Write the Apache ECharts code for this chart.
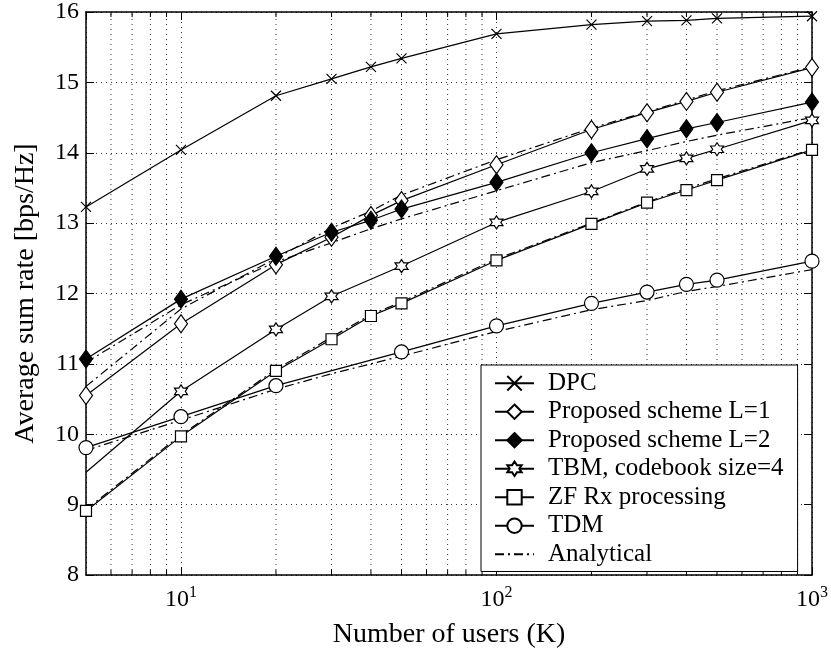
<!DOCTYPE html>
<html>
<head>
<meta charset="utf-8">
<script src="https://cdn.jsdelivr.net/npm/echarts@6/dist/echarts.min.js"></script>
<style>
  html, body { margin: 0; padding: 0; background: #fff; }
  #chart { width: 831px; height: 654px; }
</style>
</head>
<body>
<div id="chart"></div>
<script>
// number of users
const users = [5, 10, 20, 30, 40, 50, 100, 200, 300, 400, 500, 1000];
const usersTbm = [5, 10, 20, 30, 50, 100, 200, 300, 400, 500, 1000];
const usersTdm = [5, 10, 20, 50, 100, 200, 300, 400, 500, 1000];

// simulated sum rates
const dpc = [13.23, 14.04, 14.81, 15.05, 15.22, 15.34, 15.69, 15.82, 15.87, 15.88, 15.91, 15.94];
const propL1 = [10.55, 11.57, 12.41, 12.80, 13.11, 13.32, 13.83, 14.33, 14.57, 14.73, 14.86, 15.21];
const propL2 = [11.07, 11.92, 12.53, 12.87, 13.04, 13.20, 13.58, 14.00, 14.20, 14.34, 14.43, 14.72];
const tbm = [9.46, 10.61, 11.49, 11.96, 12.39, 13.01, 13.45, 13.77, 13.92, 14.05, 14.46];
const zf = [8.91, 9.97, 10.90, 11.35, 11.68, 11.86, 12.47, 12.99, 13.29, 13.47, 13.61, 14.04];
const tdm = [9.81, 10.25, 10.69, 11.17, 11.54, 11.86, 12.02, 12.13, 12.19, 12.46];

// analytical curves
const anaL1 = [10.68, 11.78, 12.50, 12.93, 13.17, 13.40, 13.90, 14.35, 14.58, 14.75, 14.88, 15.22];
const anaL2 = [11.02, 11.84, 12.45, 12.72, 12.92, 13.06, 13.46, 13.86, 14.03, 14.16, 14.25, 14.50];
const anaZf = [8.93, 9.99, 10.92, 11.38, 11.70, 11.88, 12.49, 13.00, 13.30, 13.49, 13.63, 14.05];
const anaTdm = [9.77, 10.20, 10.64, 10.86, 11.00, 11.11, 11.46, 11.77, 11.90, 12.03, 12.10, 12.34];

// minor log ticks on the x axis
const minorTicks = [6, 7, 8, 9, 20, 30, 40, 50, 60, 70, 80, 90, 200, 300, 400, 500, 600, 700, 800, 900];
const legendNames = ['DPC', 'Proposed scheme L=1', 'Proposed scheme L=2', 'TBM, codebook size=4',
  'ZF Rx processing', 'TDM', 'Analytical'];

const FONT = '"Liberation Serif", "Times New Roman", serif';
const starPath = 'path://M0,-10L2.887,-5L8.66,-5L5.774,0L8.66,5L2.887,5L0,10L-2.887,5L-8.66,5L-5.774,0L-8.66,-5L-2.887,-5Z';
const crossPath = 'path://M0,0L10,10M10,0L0,10';

function pairs(xs, ys) {
  return xs.map((x, i) => [x, ys[i]]);
}

function simSeries(name, xs, ys, symbol, size, fill) {
  return {
    name: name,
    type: 'line',
    data: pairs(xs, ys),
    symbol: symbol,
    symbolSize: size,
    showAllSymbol: true,
    lineStyle: { color: '#000', width: 1.2 },
    itemStyle: { color: fill, borderColor: '#000', borderWidth: 1.2 },
    z: 3
  };
}

function anaSeries(ys) {
  return {
    name: 'Analytical',
    type: 'line',
    data: pairs(users, ys),
    symbol: 'none',
    lineStyle: { color: '#000', width: 1.2, type: [9, 4, 2, 4] },
    itemStyle: { color: '#000' },
    z: 2
  };
}

const tbmSeries = simSeries('TBM, codebook size=4', usersTbm, tbm, starPath, 13, '#fff');
tbmSeries.data[0] = { value: tbmSeries.data[0], symbol: 'none' };

const chart = echarts.init(document.getElementById('chart'), null, { renderer: 'canvas' });

const dotted = { color: '#333', width: 1, type: [1, 4] };

chart.setOption({
  animation: false,
  grid: { left: 86, right: 18, top: 6, bottom: 74 },
  legend: {
    data: legendNames.map(n => n === 'Analytical' ? { name: n, itemStyle: { opacity: 0 } } : n),
    orient: 'vertical',
    left: 481,
    top: 365,
    itemWidth: 39,
    itemHeight: 18,
    itemGap: 0,
    padding: [4, 14, 3, 13],
    borderColor: '#000',
    borderWidth: 1,
    backgroundColor: '#fff',
    textStyle: { fontFamily: FONT, fontSize: 25, color: '#000', lineHeight: 28.5, padding: [0, 0, 0, 9] }
  },
  xAxis: [{
    type: 'log',
    logBase: 10,
    min: 5,
    max: 1000,
    name: 'Number of users (K)',
    nameLocation: 'middle',
    nameGap: 46,
    nameTextStyle: { fontFamily: FONT, fontSize: 28, color: '#000' },
    axisLine: { lineStyle: { color: '#000', width: 1.5 } },
    axisTick: { inside: true, length: 8, lineStyle: { color: '#000' } },
    splitLine: { show: true, lineStyle: dotted },
    axisLabel: {
      margin: 10,
      showMinLabel: false,
      formatter: function (v) {
        const n = Math.round(Math.log10(v));
        if (Math.abs(Math.pow(10, n) - v) > 1e-6 * v) return '';
        return '{b|10}{s|' + n + '}';
      },
      rich: {
        b: { fontFamily: FONT, fontSize: 24, color: '#000' },
        s: { fontFamily: FONT, fontSize: 16, color: '#000', padding: [0, 0, 14, 0] }
      }
    }
  }, {
    type: 'log',
    logBase: 10,
    min: 5,
    max: 1000,
    position: 'top',
    axisLine: { lineStyle: { color: '#000', width: 1.5 } },
    axisTick: { inside: true, length: 8, lineStyle: { color: '#000' } },
    axisLabel: { show: false },
    splitLine: { show: false }
  }],
  yAxis: [{
    type: 'value',
    min: 8,
    max: 16,
    interval: 1,
    name: 'Average sum rate [bps/Hz]',
    nameLocation: 'middle',
    nameGap: 46,
    nameTextStyle: { fontFamily: FONT, fontSize: 28, color: '#000' },
    axisLine: { show: true, lineStyle: { color: '#000', width: 1.5 } },
    axisTick: { show: true, inside: true, length: 8, lineStyle: { color: '#000' } },
    splitLine: { show: true, lineStyle: dotted },
    axisLabel: { margin: 7, fontFamily: FONT, fontSize: 24, color: '#000' }
  }, {
    type: 'value',
    min: 8,
    max: 16,
    interval: 1,
    position: 'right',
    axisLine: { show: true, lineStyle: { color: '#000', width: 1.5 } },
    axisTick: { show: true, inside: true, length: 8, lineStyle: { color: '#000' } },
    axisLabel: { show: false },
    splitLine: { show: false }
  }],
  series: [
    {
      type: 'custom',
      silent: true,
      data: minorTicks.map(v => [v, 8]),
      encode: { x: 0, y: 1 },
      z: 1,
      renderItem: function (params, api) {
        const x = api.value(0);
        const bot = api.coord([x, 8]);
        const top = api.coord([x, 16]);
        const st = { stroke: '#000', lineWidth: 1 };
        return {
          type: 'group',
          children: [
            { type: 'line', shape: { x1: bot[0], y1: bot[1], x2: top[0], y2: top[1] },
              style: { stroke: '#333', lineWidth: 1, lineDash: [1, 4] } },
            { type: 'line', shape: { x1: bot[0], y1: bot[1], x2: bot[0], y2: bot[1] - 5 }, style: st },
            { type: 'line', shape: { x1: top[0], y1: top[1], x2: top[0], y2: top[1] + 5 }, style: st }
          ]
        };
      }
    },
    simSeries('DPC', users, dpc, crossPath, 10, '#000'),
    simSeries('Proposed scheme L=1', users, propL1, 'diamond', [13, 18], '#fff'),
    simSeries('Proposed scheme L=2', users, propL2, 'diamond', [13, 18], '#000'),
    tbmSeries,
    simSeries('ZF Rx processing', users, zf, 'rect', 11, '#fff'),
    simSeries('TDM', usersTdm, tdm, 'circle', 14, '#fff'),
    anaSeries(anaL1),
    anaSeries(anaL2),
    anaSeries(anaZf),
    anaSeries(anaTdm)
  ]
});
</script>
</body>
</html>
